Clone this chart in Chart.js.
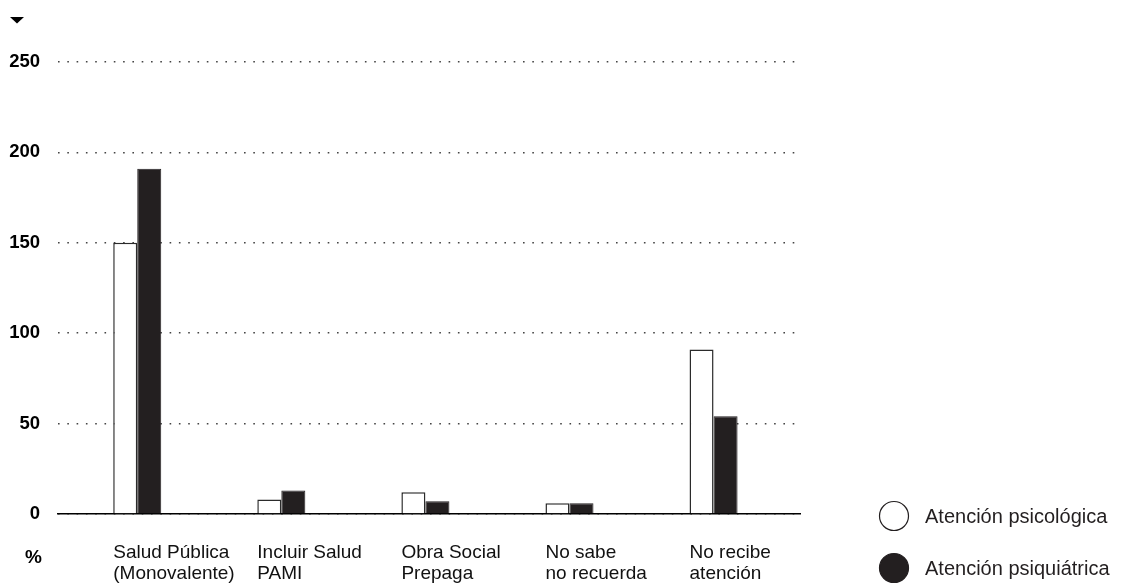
<!DOCTYPE html>
<html>
<head>
<meta charset="utf-8">
<script src="https://cdn.jsdelivr.net/npm/chart.js@4.4.1/dist/chart.umd.min.js"></script>
<style>
  html, body { margin: 0; padding: 0; background: #fff; }
  #wrap { width: 1124px; height: 585px; position: relative; }
</style>
</head>
<body>
<div id="wrap"><canvas id="chart" width="1124" height="585"></canvas></div>
<script>
// Data
const categories = [
    ['Salud Pública', '(Monovalente)'],
    ['Incluir Salud', 'PAMI'],
    ['Obra Social', 'Prepaga'],
    ['No sabe', 'no recuerda'],
    ['No recibe', 'atención']
];
const seriesNames = ['Atención psicológica', 'Atención psiquiátrica'];
const psicologica = [150, 8, 12, 6, 91];
const psiquiatrica = [191, 13, 7, 6, 54];
const yTicks = [0, 50, 100, 150, 200, 250];

const FONT = "'Liberation Sans', Arial, Helvetica, sans-serif";

// Function to turn a value list into x/y points on the index axis
function toPoints(values) {
    return values.map((v, i) => ({ x: i, y: v }));
}

// Plugin for the legend, the "%" unit and the small arrow
const extras = {
    id: 'extras',
    afterDraw(chart) {
        const ctx = chart.ctx;
        ctx.save();

        // little arrow top left
        ctx.fillStyle = '#000';
        ctx.beginPath();
        ctx.moveTo(10, 17);
        ctx.lineTo(24, 17);
        ctx.lineTo(17, 23.5);
        ctx.closePath();
        ctx.fill();

        // unit label
        ctx.font = 'bold 19px ' + FONT;
        ctx.textAlign = 'left';
        ctx.textBaseline = 'middle';
        ctx.fillText('%', 25, 558);

        // legend
        chart.data.datasets.forEach((ds, i) => {
            const cy = 516 + i * 52;
            ctx.beginPath();
            ctx.arc(894, cy, 14.5, 0, Math.PI * 2);
            ctx.fillStyle = ds.backgroundColor;
            ctx.fill();
            ctx.lineWidth = 1.2;
            ctx.strokeStyle = '#231f20';
            ctx.stroke();
            ctx.fillStyle = '#231f20';
            ctx.font = '20px ' + FONT;
            ctx.textBaseline = 'middle';
            ctx.fillText(ds.label, 925, cy + 1);
        });
        ctx.restore();
    }
};

const ctx = document.getElementById('chart').getContext('2d');
new Chart(ctx, {
    type: 'bar',
    data: {
        datasets: [{
            label: seriesNames[0],
            data: toPoints(psicologica),
            backgroundColor: '#ffffff',
            borderColor: '#2b2b2b',
            borderWidth: 1.5
        }, {
            label: seriesNames[1],
            data: toPoints(psiquiatrica),
            backgroundColor: '#231f20',
            borderColor: '#231f20',
            borderWidth: 1
        }]
    },
    options: {
        responsive: false,
        animation: false,
        devicePixelRatio: 1,
        categoryPercentage: 48 / 144,
        barPercentage: 1,
        layout: { padding: { top: 62, right: 324, bottom: 0, left: 0 } },
        plugins: {
            legend: { display: false },
            tooltip: { enabled: false }
        },
        scales: {
            x: {
                type: 'linear',
                min: -0.55,
                max: 4.6,
                offset: false,
                grid: { display: false, offset: false, drawTicks: false },
                border: { display: true, color: '#000', width: 1.5 },
                afterFit(scale) { scale.height = 71; },
                afterBuildTicks(scale) {
                    scale.ticks = categories.map((c, i) => ({ value: i }));
                },
                ticks: {
                    autoSkip: false,
                    maxRotation: 0,
                    align: 'start',
                    labelOffset: -24,
                    padding: 29,
                    color: '#111',
                    font: { family: FONT, size: 19, lineHeight: 1.07 },
                    callback: (v) => categories[v] || ''
                }
            },
            y: {
                min: 0,
                max: 250,
                afterFit(scale) { scale.width = 58; },
                afterBuildTicks(scale) {
                    scale.ticks = yTicks.map(v => ({ value: v }));
                },
                grid: { color: '#444', lineWidth: 1.5, drawTicks: false },
                border: { display: false, dash: [1.6, 7.7] },
                ticks: {
                    padding: 18,
                    color: '#000',
                    font: { family: FONT, size: 18.5, weight: 'bold' }
                }
            }
        }
    },
    plugins: [extras]
});
</script>
</body>
</html>
